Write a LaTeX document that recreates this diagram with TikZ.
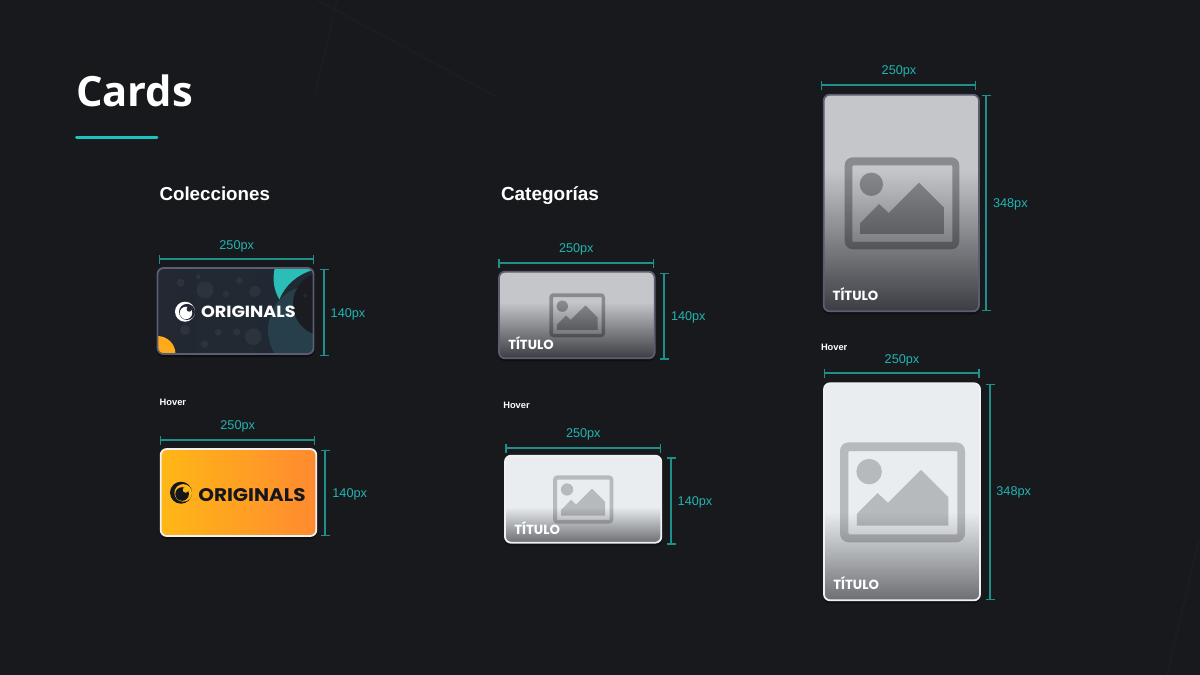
\documentclass[tikz,border=0pt]{standalone}
\usepackage{fontspec}
\usepackage{graphicx}
\usetikzlibrary{arrows.meta}
\setmainfont{Liberation Sans}
\newfontfamily\titlefont{Open Sans}
\newfontfamily\cardfont{Poppins}
\newfontfamily\logofont{Poppins}
\definecolor{pagebg}{HTML}{17191D}
\definecolor{bgline}{HTML}{1D1E23}
\definecolor{accent}{HTML}{1CC4C0}
\definecolor{dimline}{HTML}{1E8F8B}
\definecolor{dimtext}{HTML}{22B5B1}
\definecolor{edgedark}{HTML}{5B5D72}
\definecolor{edgelight}{HTML}{F0F1F2}
\definecolor{greytop}{HTML}{C4C6CA}
\definecolor{greybot}{HTML}{3C3D42}
\definecolor{lighttop}{HTML}{E9EDF0}
\definecolor{lightbot}{HTML}{6D6E73}
\definecolor{navyA}{HTML}{232832}
\definecolor{navyB}{HTML}{1F2A33}
\definecolor{tealcard}{HTML}{2BBDB8}
\definecolor{tealdeep}{HTML}{263F4A}
\definecolor{inkcard}{HTML}{1A1C22}
\definecolor{amberA}{HTML}{FFB716}
\definecolor{amberB}{HTML}{FF8A30}
\definecolor{amberC}{HTML}{FFAB1C}
\definecolor{logoink}{HTML}{15171C}
\newcommand{\fsz}[1]{\fontsize{#1}{#1}\selectfont}
\newcommand{\fitw}[2]{\resizebox{#1pt}{!}{#2}}
\tikzset{
  txt/.style={inner sep=0pt,outer sep=0pt},
  dimlabel/.style={txt,text=dimtext,font=\fsz{12.7},yshift=-1.5pt},
  dimrule/.style={draw=dimline,line width=1.3pt},
  hdimrule/.style={dimrule,{Bar[width=9pt,line width=1.3pt]}-{Bar[width=9pt,line width=1.3pt]}},
  vdimrule/.style={dimrule,{Bar[width=9pt,line width=1.3pt]}-{Bar[width=9pt,line width=1.3pt]}},
  hoverlabel/.style={txt,anchor=west,text=white,font=\bfseries\fsz{9.3}},
  sectionlabel/.style={txt,anchor=base west,text=white,font=\bfseries},
  cardtitle/.style={txt,anchor=base west,text=white,font=\cardfont\bfseries,yshift=-.7pt},
  decoline/.style={draw=bgline,line width=1.2pt},
  speck/.style={fill=white,opacity=.05},
}
% name, x1, x2, y, label-x, label-y
\newcommand{\hdim}[6]{%
  \coordinate (#1a) at (#2,#4);\coordinate (#1b) at (#3,#4);
  \draw[hdimrule] (#1a) -- (#1b);
  \node[dimlabel] (#1t) at (#5,#6) {250px};}
% name, x, y1, y2, label-x, label-y, text
\newcommand{\vdim}[7]{%
  \coordinate (#1a) at (#2,#3);\coordinate (#1b) at (#2,#4);
  \draw[vdimrule] (#1a) -- (#1b);
  \node[dimlabel] (#1t) at (#5,#6) {#7};}
% x1,y1,x2,y2,top,bottom,gradient start,edge
\newcommand{\photocard}[8]{%
  \fill[black,opacity=.35,rounded corners=7pt] (#1-1,#2+1) rectangle (#3+1,#4+3);
  \begin{scope}
    \clip[rounded corners=6pt] (#1,#2) rectangle (#3,#4);
    \fill[#5] (#1,#2) rectangle (#3,#7);
    \shade[top color=#5,bottom color=#6] (#1,#7) rectangle (#3,#4);
  \end{scope}
  \draw[#8,line width=1.8pt,rounded corners=6pt] (#1,#2) rectangle (#3,#4);}
% x,y,w,h,opacity
\newcommand{\picicon}[5]{%
  \begin{scope}[shift={(#1,#2)},x=#3pt,y=-#4pt]
    \fill[black,opacity=#5,even odd rule]
      [rounded corners=.07*#3pt] (0,0) rectangle (1,1)
      [rounded corners=.008*#3pt] (.067,.087) rectangle (.939,.920);
    \fill[black,opacity=#5] (.233,.293) circle[radius=.102*#3pt];
    \fill[black,opacity=#5] (.134,.717) -- (.300,.507) -- (.384,.605) -- (.648,.275)
      -- (.866,.547) -- (.866,.833) -- (.134,.833) -- cycle;
  \end{scope}}
% cx, cy, r, ink, ground
\newcommand{\brandmark}[5]{%
  \fill[#4] (#1,#2) circle[radius=#3pt];
  \fill[#5] (#1+.2*#3,#2+.02*#3) circle[radius=.8*#3pt];
  \fill[#4] (#1+.1*#3,#2+.12*#3) circle[radius=.62*#3pt];
  \fill[#5] (#1+.42*#3,#2-.26*#3) circle[radius=.26*#3pt];}
\begin{document}
\begin{tikzpicture}[x=1pt,y=-1pt]
\useasboundingbox (0,0) rectangle (1200,675);
\fill[pagebg] (0,0) rectangle (1200,675);
% faint background strokes
\draw[decoline] (315,95) -- (337,0);
\draw[decoline] (317,0) -- (497,97);
\draw[decoline] (1167,675) -- (1199,540);
% heading
\node[txt,anchor=base west,text=white,font=\titlefont\bfseries] (title) at (76,106) {\fitw{117}{Cards}};
\coordinate (ruleA) at (76.5,137.5);\coordinate (ruleB) at (157,137.5);
\draw[accent,line width=3pt,line cap=round] (ruleA) -- (ruleB);
\node[sectionlabel] (colecciones) at (159.5,200.7) {\fitw{110.5}{Colecciones}};
\node[sectionlabel] (categorias) at (501,200.7) {\fitw{98}{Categorías}};
% ---- collection card
\fill[black,opacity=.4,rounded corners=7pt] (156.5,269) rectangle (314.5,357);
\begin{scope}
  \clip[rounded corners=6pt] (157.5,268) rectangle (313.5,354);
  \shade[left color=navyA,right color=navyB] (157.5,268) rectangle (313.5,354);
  \foreach \zx/\zy/\zr in {122/158/12,175/140/7,258/192/9,345/184/17,298/152/10,195/180/25,290/306/11,193/342/11,235/307/10,340/320/25,135/300/15}
    \fill[speck] ({140+\zx/3},{230+\zy/3}) circle[radius=\zr/3*1pt];
  \fill[tealdeep] (313,330) circle[radius=45pt];
  \fill[inkcard] (325,304) circle[radius=32pt];
  \fill[speck] ({140+496/3},{230+197/3}) circle[radius=2pt];
  \fill[tealcard] (275,267) .. controls (272,280) and (274,290) .. (279.3,299.5)
     .. controls (285,285) and (298,274) .. (313,270) -- (313,267) -- cycle;
  \fill[amberC] (157.5,354) circle[radius=18pt];
\end{scope}
\draw[edgedark,line width=1.8pt,rounded corners=6pt] (157.5,268) rectangle (313.5,354);
\brandmark{185}{311.7}{10}{white}{navyA}
\node[txt,anchor=west,text=white,font=\logofont\bfseries] (logoA) at (201,311.7) {\resizebox{94.7pt}{11.5pt}{ORIGINALS}};
\hdim{wa}{158.5}{314}{259}{236.7}{244.5}
\vdim{ha}{324}{268.7}{356}{348}{312.7}{140px}
% ---- collection hover
\node[hoverlabel] (hoverA) at (159.7,402.3) {Hover};
\fill[black,opacity=.4,rounded corners=7pt] (160,450) rectangle (317,539);
\shade[rounded corners=6pt,left color=amberA,right color=amberB] (160.7,449) rectangle (316.3,536);
\draw[edgelight,line width=1.8pt,rounded corners=6pt] (160.7,449) rectangle (316.3,536);
\brandmark{181}{492.7}{11}{logoink}{amberA}
\node[txt,anchor=west,text=logoink,font=\logofont\bfseries] (logoB) at (198.3,495) {\resizebox{107.4pt}{13pt}{ORIGINALS}};
\hdim{wb}{159.7}{315.3}{440}{237.7}{425}
\vdim{hb}{325}{449.7}{536}{349.7}{493.3}{140px}
% ---- category card
\photocard{499}{271.7}{654.7}{358.3}{greytop}{greybot}{302}{edgedark}
\picicon{549.3}{293.3}{55.7}{44}{.3}
\node[cardtitle] (titleC) at (508.3,349) {\fitw{45.4}{TÍTULO}};
\hdim{wc}{498.3}{654}{263}{576.3}{248.3}
\vdim{hc}{664}{272.7}{359.7}{688.3}{316}{140px}
% ---- category hover
\node[hoverlabel] (hoverC) at (503.3,405.3) {Hover};
\photocard{505}{455.7}{661.3}{542.7}{lighttop}{lightbot}{506.7}{edgelight}
\picicon{553}{475.3}{60.3}{48.4}{.21}
\node[cardtitle] (titleD) at (514.3,533.4) {\fitw{45.7}{TÍTULO}};
\hdim{wd}{505.3}{661}{448}{583.3}{433.3}
\vdim{hd}{671}{457.3}{544.7}{695}{501}{140px}
% ---- tall card
\photocard{823.7}{94.7}{979}{311.3}{greytop}{greybot}{170}{edgedark}
\picicon{844.7}{157.3}{114.6}{92}{.3}
\node[cardtitle] (titleE) at (832.7,299.7) {\fitw{45.6}{TÍTULO}};
\hdim{we}{820.7}{976.3}{85}{899}{70}
\vdim{he}{986}{94.7}{311.3}{1010.3}{203}{348px}
% ---- tall hover
\node[hoverlabel] (hoverF) at (821,347.3) {Hover};
\photocard{824}{383.3}{980}{600.3}{lighttop}{lightbot}{511.7}{edgelight}
\picicon{840}{442.3}{125}{100}{.21}
\node[cardtitle] (titleF) at (833.3,588.7) {\fitw{45.7}{TÍTULO}};
\hdim{wf}{823.7}{979.7}{373}{902}{359}
\vdim{hf}{990}{383.7}{600.3}{1013.7}{491.3}{348px}
\end{tikzpicture}
\end{document}
